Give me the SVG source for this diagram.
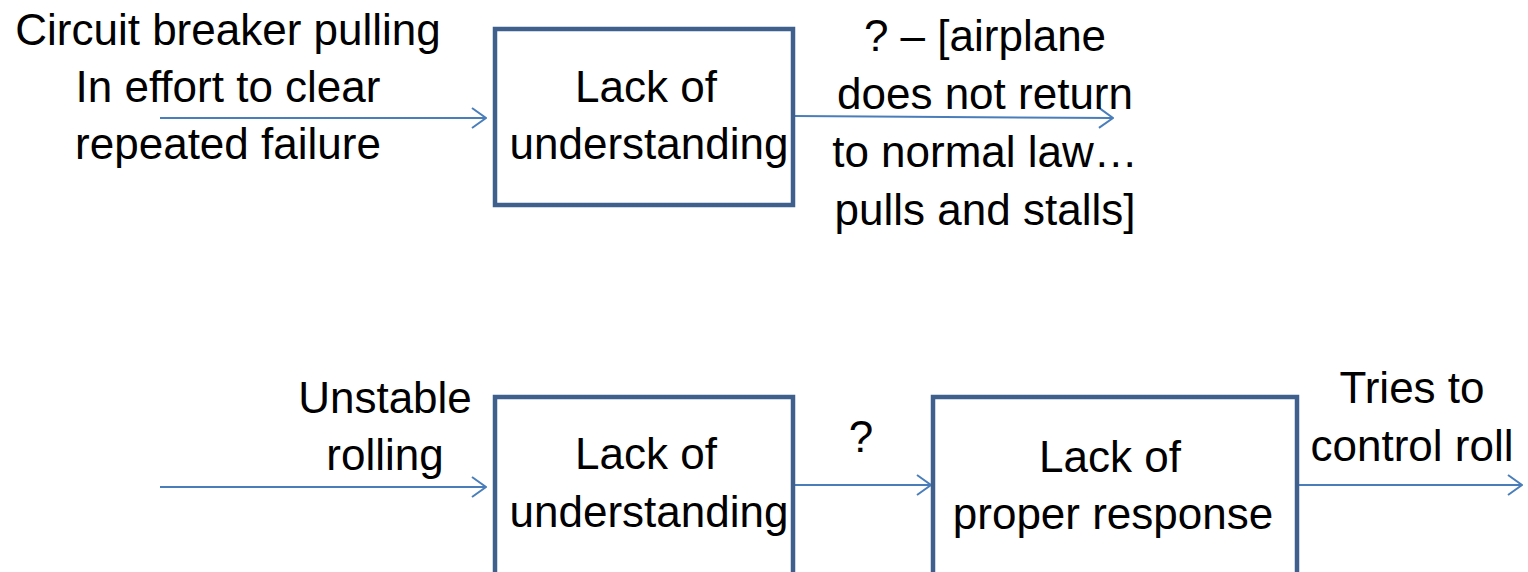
<svg xmlns="http://www.w3.org/2000/svg" width="1528" height="572" viewBox="0 0 1528 572">
  <style>
    .box { fill: #ffffff; stroke: #3F5F8C; stroke-width: 4.5; }
    .edge { fill: none; stroke: #4A7EBB; stroke-width: 2; }
    text { font-family: "Liberation Sans", Arial, sans-serif; font-size: 44px; fill: #000000; text-anchor: middle; }
  </style>
  <defs>
    <marker id="open-arrow" viewBox="0 0 16 22" refX="15" refY="11" markerWidth="16" markerHeight="22" markerUnits="userSpaceOnUse" orient="auto">
      <path d="M1,1 L15,11 L1,21" fill="none" stroke="#4A7EBB" stroke-width="2"/>
    </marker>
  </defs>

  <rect width="1528" height="572" fill="#ffffff"/>

  <!-- connectors -->
  <g id="connectors">
    <line class="edge" x1="160" y1="118" x2="486" y2="118" marker-end="url(#open-arrow)"/>
    <line class="edge" x1="795" y1="116" x2="1113" y2="118" marker-end="url(#open-arrow)"/>
    <line class="edge" x1="160" y1="487" x2="486" y2="487" marker-end="url(#open-arrow)"/>
    <line class="edge" x1="795" y1="485" x2="931" y2="485" marker-end="url(#open-arrow)"/>
    <line class="edge" x1="1299" y1="485" x2="1522" y2="485" marker-end="url(#open-arrow)"/>
  </g>

  <!-- edge labels -->
  <g id="labels">
    <text x="228" y="45">Circuit breaker pulling</text>
    <text x="228" y="102">In effort to clear</text>
    <text x="228" y="159">repeated failure</text>

    <text x="985" y="51">? – [airplane</text>
    <text x="985" y="109">does not return</text>
    <text x="985" y="167">to normal law…</text>
    <text x="985" y="225">pulls and stalls]</text>

    <text x="385" y="413">Unstable</text>
    <text x="385" y="470">rolling</text>

    <text x="861" y="452">?</text>

    <text x="1412" y="403">Tries to</text>
    <text x="1412" y="461">control roll</text>
  </g>

  <!-- nodes -->
  <g id="node-understanding-1">
    <rect class="box" x="495" y="29" width="298" height="176"/>
    <text x="646" y="102">Lack of</text>
    <text x="649" y="159">understanding</text>
  </g>

  <g id="node-understanding-2">
    <rect class="box" x="495" y="397" width="298" height="190"/>
    <text x="646" y="469">Lack of</text>
    <text x="649" y="527">understanding</text>
  </g>

  <g id="node-response">
    <rect class="box" x="933" y="397" width="364" height="190"/>
    <text x="1110" y="472">Lack of</text>
    <text x="1113" y="529">proper response</text>
  </g>
</svg>
